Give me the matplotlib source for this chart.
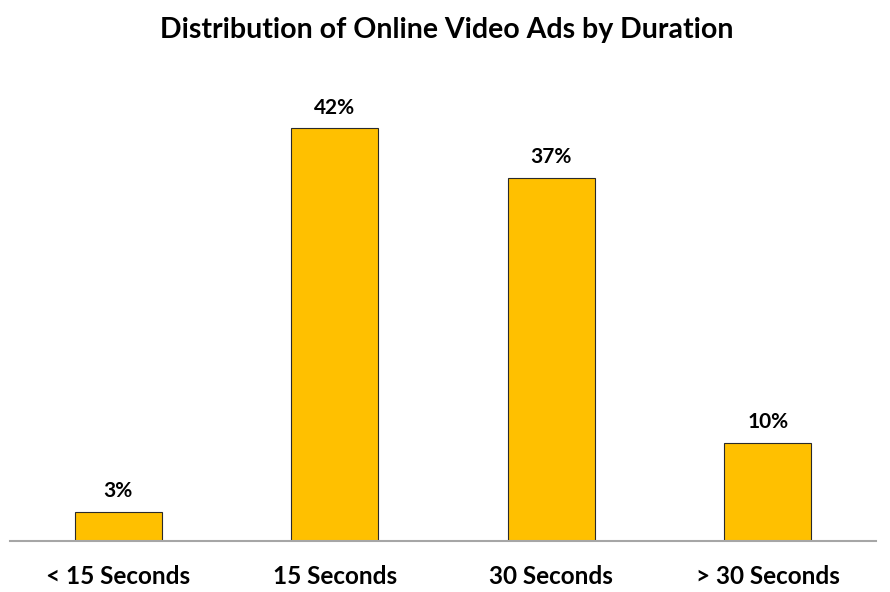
import matplotlib
matplotlib.use('Agg')
import matplotlib.pyplot as plt
import numpy as np

CATEGORIES = ['< 15 Seconds', '15 Seconds', '30 Seconds', '> 30 Seconds']
SHARES = [3, 42, 37, 10]
TITLE = 'Distribution of Online Video Ads by Duration'

BAR_COLOR = '#FFC000'
FONT = ['Lato', 'DejaVu Sans']


def main():
    fig = plt.figure(figsize=(8.9, 5.92), dpi=100)
    ax = fig.add_axes([10 / 890, 51 / 592, 866 / 890, 442 / 592])

    x = np.arange(len(CATEGORIES))
    ax.bar(x, SHARES, 0.40, color=BAR_COLOR, edgecolor='#2a2a2a',
           linewidth=0.8, zorder=2)
    for xi, v in zip(x, SHARES):
        ax.text(xi, v + 1.1, f'{v}%', ha='center', va='bottom',
                fontsize=15, fontweight='bold', family=FONT)

    ax.set_xlim(-0.5, len(CATEGORIES) - 0.5)
    ax.set_ylim(0, 45)
    ax.set_xticks(x)
    ax.set_xticklabels(CATEGORIES, fontsize=17.5, fontweight='bold', family=FONT)
    ax.tick_params(axis='x', length=0, pad=17)
    ax.set_yticks([])
    for side in ['top', 'right', 'left']:
        ax.spines[side].set_visible(False)
    ax.spines['bottom'].set_color('#a6a6a6')
    ax.spines['bottom'].set_linewidth(1.5)

    fig.text(0.502, 0.950, TITLE, ha='center', va='center',
             fontsize=20.5, fontweight='bold', family=FONT)

    fig.savefig('out.png', dpi=100)
    plt.close(fig)


if __name__ == '__main__':
    main()
